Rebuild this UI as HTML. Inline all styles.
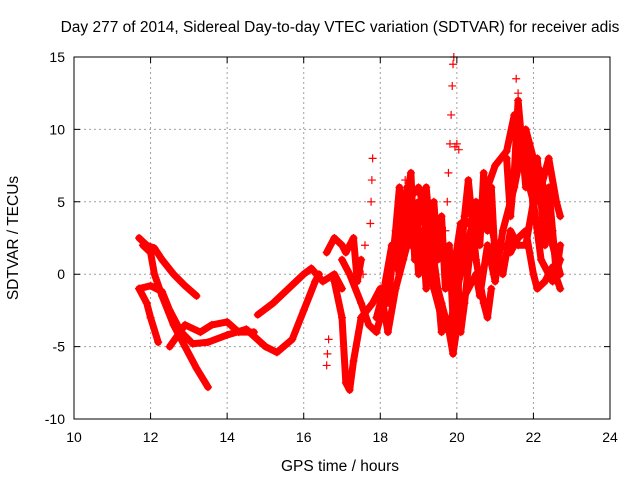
<!DOCTYPE html>
<html><head><meta charset="utf-8"><style>
body{margin:0;background:#fff}
svg{display:block;font-family:"Liberation Sans",sans-serif}
</style></head><body>
<svg id="chart" width="640" height="480">
<rect width="640" height="480" fill="#fff"/>
<text x="340" y="32" font-size="15.5" text-anchor="middle">Day 277 of 2014, Sidereal Day-to-day VTEC variation (SDTVAR) for receiver adis</text>
<text x="340" y="471" font-size="15.5" text-anchor="middle">GPS time / hours</text>
<text transform="translate(18,238) rotate(-90)" font-size="15.5" text-anchor="middle">SDTVAR / TECUs</text>
<g id="grid"></g><g id="marks"></g><g id="axes"></g>
</svg>
<script>
const xTicks=[10,12,14,16,18,20,22,24];
const yTicks=[-10,-5,0,5,10,15];
const track1=[[11.7,2.5],[11.9,2.0],[12.1,1.8],[12.3,1.0],[12.6,0],[12.9,-0.8],[13.2,-1.5]];
const track2=[[11.8,2.0],[12.0,1.5],[12.1,0],[12.3,-1.5],[12.6,-3.5],[12.9,-5],[13.2,-6.5],[13.5,-7.8]];
const track3=[[11.7,-1],[11.9,-2],[12.0,-3],[12.2,-4.7]];
const track4=[[11.7,-1],[12.0,-0.8],[12.3,-1.2],[12.5,-2.5],[12.8,-4],[13.1,-4.8],[13.5,-4.7],[14,-4.2],[14.5,-3.8],[15,-5],[15.3,-5.4],[15.7,-4.5],[16,-2.5],[16.3,-0.5],[16.4,0]];
const track5=[[12.5,-5],[12.9,-3.5],[13.3,-4],[13.6,-3.5],[14,-3.3],[14.3,-4],[14.7,-4]];
const track6=[[14.8,-2.8],[15.2,-2],[15.6,-1],[16,0],[16.2,0.4],[16.5,-0.5],[16.8,0],[17,-1]];
const track7=[[16.6,1.5],[16.8,2.5],[17,2],[17.1,1.5],[17.3,2.5],[17.4,-0.5],[17.5,1]];
const track8=[[17,1],[17.2,0],[17.5,-2],[17.7,-3.5],[17.9,-4],[18.1,-2],[18.2,0],[18.4,2],[18.6,4],[18.8,5],[19,3],[19.2,1],[19.4,-1],[19.6,-3],[19.8,-4],[20,-1],[20.2,1],[20.4,3.5],[20.6,4],[20.8,5],[21,2],[21.2,0],[21.4,3],[21.6,2],[21.8,2],[22,5],[22.2,6],[22.4,8],[22.6,5],[22.7,4]];
const track9=[[17.5,-3],[17.8,-2],[18,-1],[18.2,-4],[18.4,-1],[18.6,1],[18.8,3],[19,5],[19.2,3],[19.4,0],[19.6,-2],[19.8,-4],[19.9,-5.5],[20.1,-2],[20.3,-1],[20.5,0],[20.6,-1.5],[20.8,2],[21,-0.5],[21.2,3],[21.5,6],[21.8,10],[22,8],[22.2,7],[22.4,3],[22.6,1],[22.7,0]];
const track10=[[18.5,1],[18.7,5],[19,6],[19.2,4],[19.5,2],[19.7,1],[19.9,0],[20.1,3.5],[20.3,3.5],[20.6,4.5],[20.8,6],[21,7.5],[21.3,8.5],[21.5,11],[21.7,8],[22,5],[22.2,1],[22.5,-0.5],[22.7,1]];
const track11=[[16.8,-0.5],[17.0,-3],[17.1,-7.5],[17.2,-8],[17.3,-6],[17.5,-3]];
const track12=[[17.9,-3],[18.1,-1],[18.3,2],[18.5,0],[18.6,3],[18.7,6],[18.8,2],[18.9,4],[19.0,0],[19.1,3],[19.2,-1],[19.3,2],[19.4,5],[19.5,1],[19.6,4],[19.7,-1],[19.8,2],[19.9,-3],[20.0,1],[20.1,-4],[20.2,-2],[20.4,3],[20.5,5],[20.6,2],[20.7,7],[20.8,3],[20.9,6],[21.0,1]];
const track13=[[18.2,-2],[18.4,3],[18.5,6],[18.6,4],[18.8,7],[18.9,1],[19.0,4],[19.2,6],[19.3,3],[19.5,-1],[19.6,-4],[19.7,-3],[19.9,-5],[20.0,-2],[20.2,4],[20.3,6.5],[20.5,1],[20.7,-2],[20.8,-3],[20.9,-1]];
const track14=[[21.3,8],[21.4,4],[21.5,7],[21.6,12],[21.7,9],[21.8,6],[21.9,9],[22.0,4],[22.1,8],[22.2,5],[22.3,2],[22.4,6],[22.5,3],[22.6,0],[22.7,2]];
const track15=[[21.2,2],[21.4,1.5],[21.6,2.5],[21.8,3],[22.0,0],[22.1,-1],[22.3,-0.5],[22.5,0.5],[22.7,-1]];
const scatter=[[19.6,-2],[19.65,1],[19.7,3],[19.75,5],[19.78,7],[19.82,9],[19.85,11],[19.88,13],[19.9,14.5],[19.92,15],[17.8,8],[17.78,6.5],[17.76,5],[17.74,3.5],[16.65,-4.5],[16.62,-5.5],[16.6,-6.3],[19.95,8.8],[20.05,8.6],[20.0,9],[21.55,13.5],[21.6,12.5],[18.65,6.5],[17.6,2],[17.55,0]];
const tracks=[track1,track2,track3,track4,track5,track6,track7,track8,track9,track10,track11,track12,track13,track14,track15];
const NS="http://www.w3.org/2000/svg";
const X0=74,X1=610,Y0=419,Y1=57;
const sx=v=>X0+(v-10)/14*(X1-X0);
const sy=v=>Y0-(v+10)/25*(Y0-Y1);
function mk(t,a){const e=document.createElementNS(NS,t);for(const k in a)e.setAttribute(k,a[k]);return e;}
const grid=document.getElementById('grid'),axes=document.getElementById('axes'),marks=document.getElementById('marks');
xTicks.forEach(t=>{const x=sx(t);
 if(t>10&&t<24){const g=mk('line',{x1:x,x2:x,y1:Y1,y2:Y0,stroke:'#a0a0a0','stroke-dasharray':'2,3'});
 
 grid.appendChild(g);}
 const a=mk('path',{d:`M${x},${Y0}v-6M${x},${Y1}v6`,stroke:'#000'});
 
 axes.appendChild(a);
 const l=mk('text',{x:x,y:Y0+23,'font-size':14,'text-anchor':'middle'});l.textContent=t;
 
 axes.appendChild(l);});
yTicks.forEach(t=>{const y=sy(t);
 if(t>-10&&t<15){const g=mk('line',{x1:X0,x2:X1,y1:y,y2:y,stroke:'#a0a0a0','stroke-dasharray':'2,3'});
 
 grid.appendChild(g);}
 const a=mk('path',{d:`M${X0},${y}h6M${X1},${y}h-6`,stroke:'#000'});
 
 axes.appendChild(a);
 const l=mk('text',{x:X0-9,y:y+5,'font-size':14,'text-anchor':'end'});l.textContent=t;
 
 axes.appendChild(l);});
const fr=mk('rect',{x:X0,y:Y1,width:X1-X0,height:Y0-Y1,fill:'none',stroke:'#000'});

axes.appendChild(fr);
function plus(x,y,c){const p=mk('path',{d:`M${x-4},${y}h8M${x},${y-4}v8`,stroke:c,'stroke-width':1.2});
 
 marks.appendChild(p);}
tracks.forEach(tr=>{const pl=mk('polyline',{points:tr.map(p=>sx(p[0])+','+sy(p[1])).join(' '),fill:'none',stroke:'#f00','stroke-width':7,'stroke-linejoin':'round','stroke-linecap':'round'});
 
 marks.appendChild(pl);
 tr.forEach(p=>plus(sx(p[0]),sy(p[1]),'#f00'));});
scatter.forEach(p=>plus(sx(p[0]),sy(p[1]),'#f00'));
</script>
</body></html>
